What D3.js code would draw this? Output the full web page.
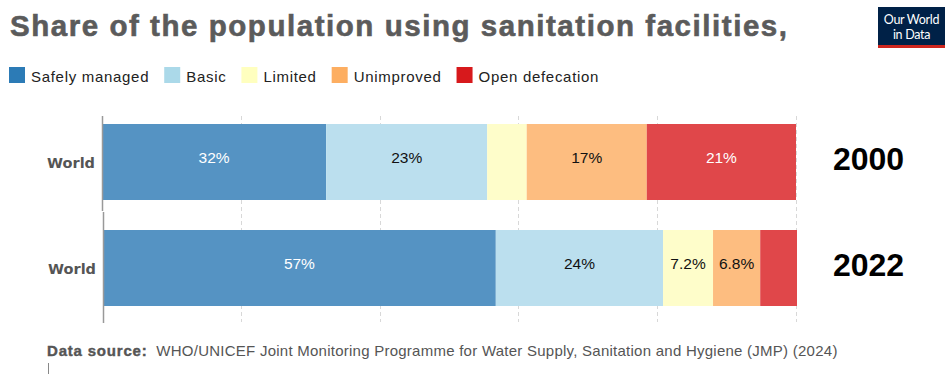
<!DOCTYPE html>
<html><head><meta charset="utf-8">
<script src="https://cdn.jsdelivr.net/npm/d3@7"></script>
<style>body{margin:0;background:#fff}svg{display:block}</style>
</head><body>
<script>
const categories = ["Safely managed","Basic","Limited","Unimproved","Open defecation"];
const legendColors = ["#2c7bb6","#abd9e9","#ffffbf","#fdae61","#d7191c"];
const barColors = ["#5593c3","#bbdfee","#fefdca","#fdbd80","#e0474a"];
const labelColors = ["#fff","#111","#111","#111","#fff"];
const years = ["2000","2022"];
const entity = "World";
const values2000 = [32.3, 23.2, 5.7, 17.3, 21.5];
const values2022 = [56.6, 24.1, 7.2, 6.8, 5.3];
const labels2000 = ["32%","23%","","17%","21%"];
const labels2022 = ["57%","24%","7.2%","6.8%",""];
const xTicks = [0,20,40,60,80,100];

const W=947,H=374;
const svg=d3.select("body").append("svg").attr("width",W).attr("height",H);
const font="'Liberation Sans', Arial, sans-serif";

svg.append("text").attr("x",10).attr("y",36).attr("font-family",font).attr("font-weight","bold")
  .attr("font-size",29.5).attr("fill","#5b5b5b").attr("stroke","#5b5b5b").attr("stroke-width",0.6)
  .attr("textLength",777).attr("lengthAdjust","spacing")
  .text("Share of the population using sanitation facilities,");

// logo
const lg=svg.append("g");
lg.append("rect").attr("x",878).attr("y",7).attr("width",67).attr("height",38).attr("fill","#002147");
lg.append("rect").attr("x",878).attr("y",45).attr("width",67).attr("height",3).attr("fill","#ce261e");
lg.append("text").attr("x",911.5).attr("y",23.5).attr("text-anchor","middle").attr("font-family","Lato, sans-serif").attr("font-size",12.5).attr("fill","#fff").attr("letter-spacing",-0.3).text("Our World");
lg.append("text").attr("x",911.5).attr("y",38.5).attr("text-anchor","middle").attr("font-family","Lato, sans-serif").attr("font-size",12.5).attr("fill","#fff").attr("letter-spacing",-0.3).text("in Data");

// legend
let lx=9;
const leg=svg.append("g");
categories.forEach((c,i)=>{
  leg.append("rect").attr("x",lx).attr("y",67).attr("width",16).attr("height",16).attr("fill",legendColors[i]);
  const t=leg.append("text").attr("x",lx+22).attr("y",81.5).attr("font-family",font).attr("font-size",15).attr("letter-spacing",0.7).attr("fill","#222").text(c);
  lx += 22 + t.node().getComputedTextLength() + 15;
});

const x=d3.scaleLinear().domain([0,100]).range([102,796]);

// gridlines
svg.append("g").selectAll("line").data(xTicks.slice(1)).join("line")
  .attr("x1",d=>Math.round(x(d))+0.5).attr("x2",d=>Math.round(x(d))+0.5)
  .attr("y1",116).attr("y2",322).attr("stroke","#d8d8d8").attr("stroke-dasharray","4,3");

const panels=[
  {year:years[0],values:values2000,labels:labels2000,y0:124,ax:[116,211],xoff:0},
  {year:years[1],values:values2022,labels:labels2022,y0:230,ax:[212,323],xoff:1}
];
const bh=76;
panels.forEach(p=>{
  const g=svg.append("g").attr("transform",`translate(${p.xoff},0)`);
  let cum=0;
  const segs=p.values.map((v,i)=>{const s={i,v,a:cum,b:cum+v,l:p.labels[i]};cum+=v;return s;});
  g.selectAll("rect").data(segs).join("rect")
    .attr("x",d=>x(d.a)).attr("width",d=>x(d.b)-x(d.a)).attr("y",p.y0).attr("height",bh)
    .attr("fill",d=>barColors[d.i]);
  g.selectAll("text.v").data(segs.filter(d=>d.l)).join("text").attr("class","v")
    .attr("x",d=>(x(d.a)+x(d.b))/2).attr("y",p.y0+bh/2-4).attr("dy","0.35em")
    .attr("text-anchor","middle").attr("font-family",font).attr("font-size",15.5)
    .attr("fill",d=>labelColors[d.i]).text(d=>d.l);
  g.append("line").attr("x1",102.5).attr("x2",102.5).attr("y1",p.ax[0]).attr("y2",p.ax[1]).attr("stroke","#999").attr("stroke-width",1.5);
  g.append("text").attr("x",95).attr("y",p.y0+bh/2+1).attr("dy","0.35em").attr("text-anchor","end")
    .attr("font-family","'DejaVu Sans', Verdana, sans-serif").attr("font-weight","bold").attr("font-size",14.5).attr("fill","#555").text(entity);
  svg.append("text").attr("x",868.5).attr("y",p.y0+bh/2-3).attr("dy","0.35em").attr("text-anchor","middle")
    .attr("font-family",font).attr("font-weight","bold").attr("font-size",32).attr("fill","#000").text(p.year);
});

// source
const src=svg.append("text").attr("x",47).attr("y",356).attr("font-family",font).attr("font-size",15).attr("fill","#555");
src.append("tspan").attr("font-weight","bold").attr("letter-spacing",0.8).attr("stroke","#555").attr("stroke-width",0.4).text("Data source:");
src.append("tspan").attr("letter-spacing",0.25).text("\u00a0 WHO/UNICEF Joint Monitoring Programme for Water Supply, Sanitation and Hygiene (JMP) (2024)");
svg.append("line").attr("x1",48.5).attr("x2",48.5).attr("y1",363).attr("y2",374).attr("stroke","#888");
</script>
</body></html>
